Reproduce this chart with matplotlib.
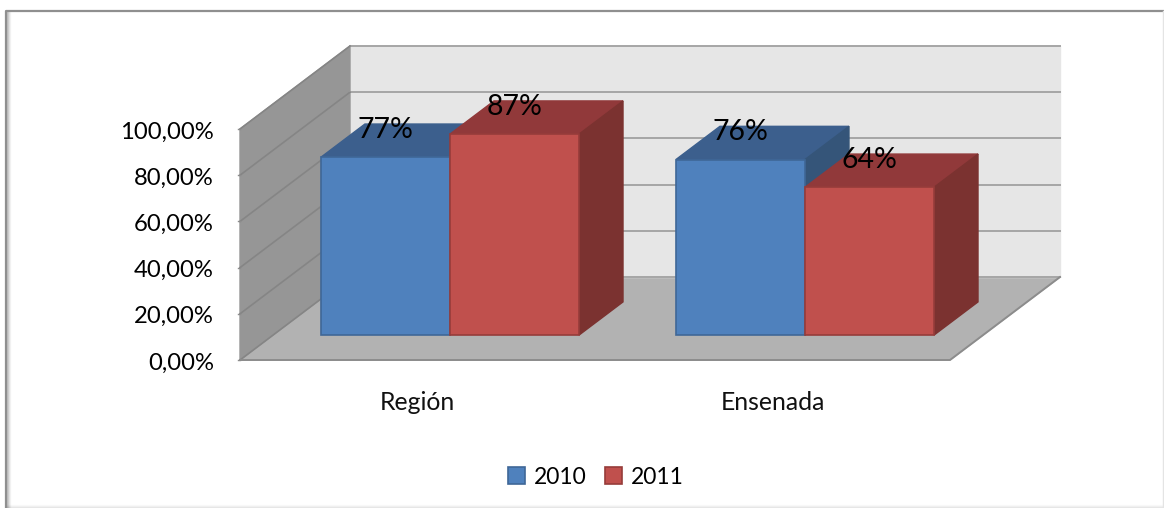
"""3D style clustered bars, Region vs Ensenada, 2010 and 2011."""

import matplotlib

matplotlib.use("Agg")
import matplotlib.pyplot as plt
from matplotlib.patches import Patch, Polygon

categories = ["Región", "Ensenada"]
series_names = ["2010", "2011"]
values_2010 = [77, 76]
values_2011 = [87, 64]
tick_values = [0, 20, 40, 60, 80, 100]
tick_labels = ["0,00%", "20,00%", "40,00%", "60,00%", "80,00%", "100,00%"]

# pixel layout of the fake 3D box
X0, Y0 = 240, 360
CAT_W = 355
DX, DY = 110, 83
PX_PER_PCT = 2.31
BAR_START = 0.135
BAR_W = 0.3635
D_FRONT, D_BACK = 0.30, 0.70

WALL_LEFT = "#969696"
WALL_BACK = "#e6e6e6"
FLOOR = "#b2b2b2"
GRID = "#a6a6a6"
GRID_LEFT = "#858585"
LINE = "#8c8c8c"
COLORS = {
    "2010": {"front": "#4f81bd", "top": "#3c5f8d", "side": "#355579", "edge": "#3f6797"},
    "2011": {"front": "#c0504d", "top": "#91393a", "side": "#7b3230", "edge": "#963c3a"},
}

plt.rcParams["font.family"] = ["Lato", "DejaVu Sans"]


def project(x, value, depth):
    return (X0 + x * CAT_W + DX * depth, Y0 - value * PX_PER_PCT - DY * depth)


def face(ax, pts, color, edge=None, z=1, lw=1.0):
    ax.add_patch(Polygon(pts, closed=True, facecolor=color, edgecolor=edge or color, linewidth=lw, zorder=z))


def draw_bar(ax, x, value, colors, z):
    a = project(x, 0, D_FRONT)
    b = project(x + BAR_W, 0, D_FRONT)
    c = project(x + BAR_W, value, D_FRONT)
    d = project(x, value, D_FRONT)
    e = project(x, value, D_BACK)
    f = project(x + BAR_W, value, D_BACK)
    g = project(x + BAR_W, 0, D_BACK)
    face(ax, [d, c, f, e], colors["top"], colors["top"], z)
    face(ax, [b, g, f, c], colors["side"], colors["side"], z)
    face(ax, [a, b, c, d], colors["front"], colors["edge"], z + 0.1, 1.2)


fig = plt.figure(figsize=(11.64, 5.08), dpi=100)
ax = fig.add_axes([0, 0, 1, 1])
ax.set_xlim(0, 1164)
ax.set_ylim(508, 0)
ax.axis("off")

# outer frame with soft shadow inside
for i, a in enumerate([0.22, 0.14, 0.08, 0.04]):
    ax.plot([7 + i, 7 + i], [12, 507], color="black", alpha=a, lw=1, zorder=0)
    ax.plot([7, 1164], [507.5 - i, 507.5 - i], color="black", alpha=a * 0.5, lw=1, zorder=0)
ax.plot([6, 6, 1163], [507, 11, 11], color="#8f8f8f", lw=1.6, zorder=0.5)
ax.plot([1163, 1163], [11, 507], color="#e4e4e4", lw=1, zorder=0.5)

n = len(categories)
top = tick_values[-1]
face(ax, [project(0, 0, 0), project(0, 0, 1), project(n, 0, 1), project(n, 0, 0)], FLOOR, FLOOR)
face(ax, [project(0, 0, 1), project(n, 0, 1), project(n, top, 1), project(0, top, 1)], WALL_BACK, WALL_BACK)
face(ax, [project(0, 0, 0), project(0, 0, 1), project(0, top, 1), project(0, top, 0)], WALL_LEFT, WALL_LEFT)

for v, label in zip(tick_values, tick_labels):
    p0 = project(0, v, 0)
    p1 = project(0, v, 1)
    p2 = project(n, v, 1)
    ax.plot([p1[0], p2[0]], [p1[1], p2[1]], color=GRID, lw=1.4, zorder=1.5)
    ax.plot([p0[0], p1[0]], [p0[1], p1[1]], color=GRID_LEFT, lw=1.2, zorder=1.5)
    ax.plot([p0[0] - 2, p0[0]], [p0[1], p0[1]], color=LINE, lw=1, zorder=1.5)
    ax.text(p0[0] - 26, p0[1] + 3, label, ha="right", va="center", fontsize=17.2, color="black", zorder=5)

# floor front edge and back corner
p = [project(0, 0, 0), project(n, 0, 0), project(n, 0, 1)]
ax.plot([q[0] for q in p], [q[1] for q in p], color=LINE, lw=1.4, zorder=1.6)

for i, cat in enumerate(categories):
    draw_bar(ax, i + BAR_START, values_2010[i], COLORS["2010"], 2 + i)
    draw_bar(ax, i + BAR_START + BAR_W, values_2011[i], COLORS["2011"], 2.5 + i)
    for j, vals in enumerate([values_2010, values_2011]):
        xc, yc = project(i + BAR_START + BAR_W * (j + 0.5), vals[i], D_BACK)
        ax.text(xc - 44, yc + 6, f"{vals[i]}%", ha="center", va="center", fontsize=20.5, color="black", zorder=6)
    cx = project(i + 0.5, 0, 0)[0]
    ax.text(cx, 402, cat, ha="center", va="center", fontsize=17.8, color="#111111", zorder=5)

handles = [
    Patch(facecolor=COLORS[s]["front"], edgecolor=COLORS[s]["edge"], linewidth=1.2, label=s)
    for s in series_names
]
ax.legend(
    handles=handles,
    loc="center",
    bbox_to_anchor=(596 / 1164, 1 - 477 / 508),
    ncol=2,
    frameon=False,
    fontsize=16.5,
    handlelength=0.72,
    handleheight=0.72,
    handletextpad=0.4,
    columnspacing=0.8,
    borderpad=0,
)

fig.savefig("out.png", dpi=100)
plt.close(fig)
